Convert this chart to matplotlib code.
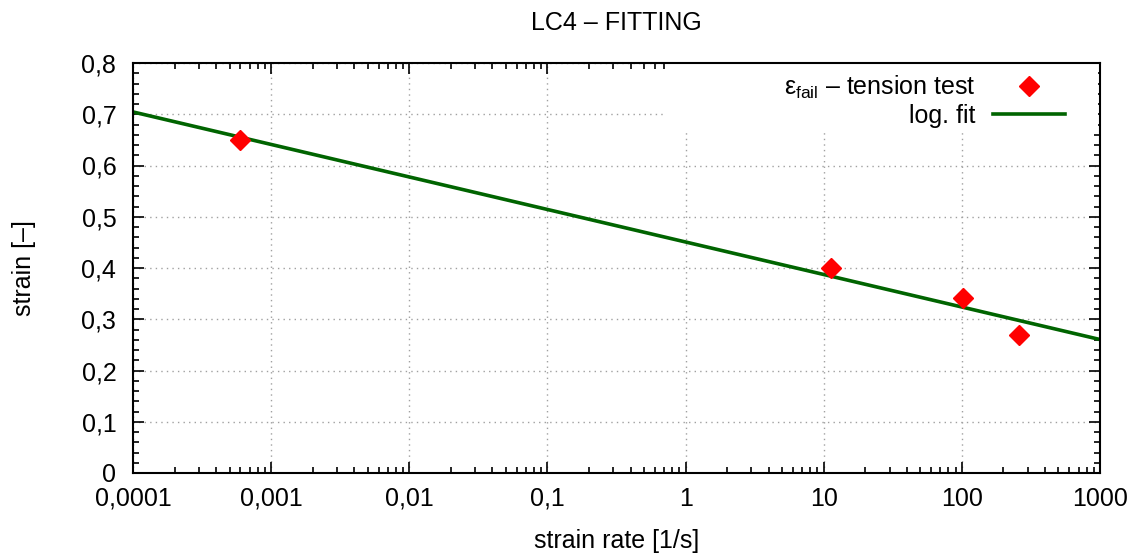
import matplotlib
matplotlib.use("Agg")
import matplotlib.pyplot as plt
from matplotlib.patches import Rectangle
from matplotlib.ticker import FixedLocator, LogLocator, MultipleLocator, NullFormatter
import numpy as np

plt.rcParams["font.family"] = ["Liberation Sans", "DejaVu Sans"]
plt.rcParams["mathtext.fontset"] = "custom"
plt.rcParams["mathtext.rm"] = "Liberation Sans"
plt.rcParams["mathtext.it"] = "Liberation Sans"

# measured failure strain vs strain rate
strain_rate = [0.0006, 11.3, 102, 260]
strain_fail = [0.650, 0.400, 0.341, 0.269]

x_ticks = [1e-4, 1e-3, 1e-2, 1e-1, 1, 10, 100, 1000]
x_tick_labels = ["0,0001", "0,001", "0,01", "0,1", "1", "10", "100", "1000"]
y_ticks = [0, 0.1, 0.2, 0.3, 0.4, 0.5, 0.6, 0.7, 0.8]
y_tick_labels = ["0", "0,1", "0,2", "0,3", "0,4", "0,5", "0,6", "0,7", "0,8"]

# logarithmic fit: strain = a + b*log10(rate)
b, a = np.polyfit(np.log10(strain_rate), strain_fail, 1)
fit_x = np.logspace(-4, 3, 200)
fit_y = a + b * np.log10(fit_x)

fig = plt.figure(figsize=(11.39, 5.59), dpi=100)
ax = fig.add_axes([133 / 1139, 1 - 473 / 559, 967 / 1139, 410 / 559])

ax.plot(strain_rate, strain_fail, linestyle="none", marker="D", color="#ff0000",
        markersize=10.5, label=r"$\varepsilon_{\rm fail}$ – tension test", zorder=3)
ax.plot(fit_x, fit_y, color="#006400", linewidth=2.6, label="log. fit", zorder=2)

ax.set_xscale("log")
ax.set_xlim(1e-4, 1000)
ax.set_ylim(0, 0.8)
ax.xaxis.set_major_locator(FixedLocator(x_ticks))
ax.set_xticklabels(x_tick_labels)
ax.xaxis.set_minor_locator(LogLocator(base=10, subs=np.arange(2, 10)))
ax.xaxis.set_minor_formatter(NullFormatter())
ax.set_yticks(y_ticks)
ax.set_yticklabels(y_tick_labels)
ax.yaxis.set_minor_locator(MultipleLocator(0.02))

ax.tick_params(which="both", direction="in", top=True, right=True, width=1.2,
               labelsize=18, colors="black")
ax.tick_params(which="major", length=8)
ax.tick_params(which="minor", length=4)
ax.tick_params(axis="x", which="major", pad=10)
ax.tick_params(axis="y", which="major", pad=12)
for s in ax.spines.values():
    s.set_linewidth(1.5)

ax.grid(True, which="major", linestyle=(0, (1, 3)), color="#a0a0a0", linewidth=1.0)
ax.set_axisbelow(True)

# opaque key box hides the grid behind the legend
ax.add_patch(Rectangle((0.55, 0.829), 0.448, 0.171, transform=ax.transAxes,
                       facecolor="white", edgecolor="none", zorder=1))

ax.set_title("LC4 – FITTING", fontsize=18, pad=24)
ax.set_xlabel("strain rate [1/s]", fontsize=18)
ax.set_ylabel("strain [–]", fontsize=18)
ax.xaxis.label.set_va("center")
ax.yaxis.label.set_va("center")
ax.xaxis.set_label_coords(0.5, -0.166)
ax.yaxis.set_label_coords(-0.113, 0.5)

leg = ax.legend(loc="upper right", bbox_to_anchor=(0.972, 0.993), markerfirst=False,
                fontsize=18, frameon=False, handlelength=2.9,
                handletextpad=0.7, borderpad=0.3, labelspacing=0.12,
                borderaxespad=0.0)
for t in leg.get_texts():
    t.set_ha("right")

fig.savefig("out.png", dpi=100)
